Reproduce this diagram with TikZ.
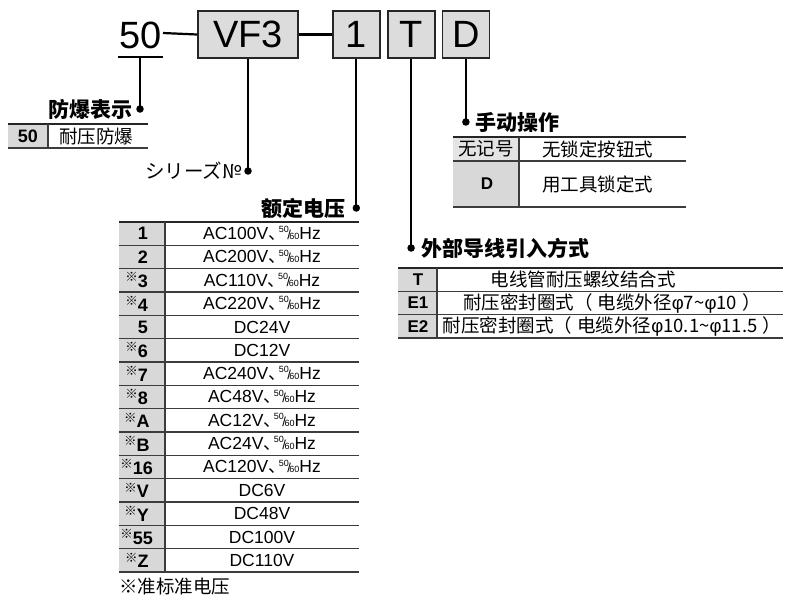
\documentclass[tikz,border=0pt]{standalone}
\usepackage{fontspec}
\setmainfont{Liberation Sans}
\newfontfamily\cjk{Noto Sans CJK SC}
\newfontfamily\jp{Noto Sans CJK JP}
\usetikzlibrary{positioning}
\definecolor{cellgray}{RGB}{216,216,216}
\definecolor{boxgray}{RGB}{220,220,220}
\definecolor{rulegray}{RGB}{60,60,60}
\newcommand{\fivesix}{\raisebox{0.38em}{\fontsize{9}{9}\selectfont 50}\kern-1.5pt{\fontsize{13}{13}\selectfont/}\kern-1.5pt{\fontsize{9}{9}\selectfont 60}}
\newcommand{\hz}{{\cjk\makebox[0.6em][l]{、}}\fivesix Hz}
\newcommand{\refmark}{\llap{\raisebox{0.32em}{\cjk\bfseries\fontsize{12.5}{12.5}\selectfont ※}}}
\newcommand{\diam}{{\rmfamily φ}}

\begin{document}
\begin{tikzpicture}[x=1pt, y=-1pt,
    code/.style={draw=black!85, line width=1.8pt, fill=boxgray, minimum height=47pt, inner sep=0pt, font=\fontsize{38}{38}\selectfont},
    dot/.style={circle, fill=black, inner sep=0pt, minimum size=7.5pt},
    lead/.style={line width=2.2pt},
    head/.style={font=\cjk\bfseries\fontsize{21}{21}\selectfont, inner sep=0pt},
    cell/.style={font=\cjk\fontsize{18.5}{18.5}\selectfont, inner sep=0pt},
    num/.style={font=\bfseries\fontsize{18}{18}\selectfont, inner sep=0pt},
    key/.style={font=\bfseries\fontsize{17}{17}\selectfont, inner sep=0pt},
    val/.style={font=\fontsize{17.5}{17.5}\selectfont, inner sep=0pt},
    rule/.style={draw=rulegray, line width=1.6pt},
    toprule/.style={draw=black!85, line width=2.2pt}
]
    \useasboundingbox (0,0) rectangle (790,603);

    % Model code
    \node[font=\fontsize{38}{38}\selectfont, inner sep=0pt] (fifty) at (140.5,35) {50};
    \node[code, minimum width=100pt] (vf) at (248,34.5) {VF3};
    \node[code, minimum width=47pt, right=33pt of vf] (volt) {1};
    \node[code, minimum width=47pt, right=6pt of volt] (wire) {T};
    \node[code, minimum width=47pt, right=6pt of wire] (man) {D};
    \coordinate (ul) at (140,57);
    \draw[lead] (118,57) -- (163,57);
    \draw[lead] (163,33) -- (vf.west);
    \draw[lead] (vf.east) -- (volt.west);

    % Dots
    \node[dot] (dexp) at (140,109) {};
    \node[dot] (dser) at (vf.south |- 0,171) {};
    \node[dot] (dvolt) at (volt.south |- 0,208) {};
    \node[dot] (dwire) at (wire.south |- 0,248) {};
    \node[dot] (dman) at (man.south |- 0,122) {};
    \draw[lead] (ul) -- (dexp.center);
    \draw[lead] (vf.south) -- (dser.center);
    \draw[lead] (volt.south) -- (dvolt.center);
    \draw[lead] (wire.south) -- (dwire.center);
    \draw[lead] (man.south) -- (dman.center);

    % Headings
    \node[head, left=3pt of dexp] (hexp) {防爆表示};
    \node[font=\jp\fontsize{19.5}{19.5}\selectfont, inner sep=0pt, left=2pt of dser] (hser) {シリーズ№};
    \node[head, left=7pt of dvolt] (hvolt) {额定电压};
    \node[head, right=6pt of dwire] (hwire) {外部导线引入方式};
    \node[head, right=5pt of dman] (hman) {手动操作};

    % Explosion-proof table
    \fill[cellgray] (8,124) rectangle (48,148);
    \draw[toprule] (8,124) -- (148,124);
    \draw[rule] (8,148) -- (148,148);
    \draw[rule] (48,124) -- (48,148);
    \node[num] (e50) at (28,136) {50};
    \node[cell] (etxt) at (96,136) {耐压防爆};

    % Manual override table
    \fill[cellgray!70] (453,137) rectangle (519,161);
    \fill[cellgray] (453,161) rectangle (519,207);
    \draw[toprule] (453,137) -- (686,137);
    \draw[rule] (453,161) -- (686,161);
    \draw[rule] (453,207) -- (686,207);
    \draw[rule] (519,137) -- (519,207);
    \node[cell] (mnone) at (486,149) {无记号};
    \node[cell, anchor=west] (mtxt1) at (542,149) {无锁定按钮式};
    \node[key] (md) at (487,184) {D};
    \node[cell, anchor=west] (mtxt2) at (542,184) {用工具锁定式};

    % Voltage table
    \fill[cellgray] (119,222) rectangle (165,572);
    \draw[toprule] (119,222) -- (359,222);
    \foreach \k in {1,...,15}
        \draw[rule] (119,222+\k*23.333) -- (359,222+\k*23.333);
    \draw[rule] (165,222) -- (165,572);
    \foreach \n/\s/\v [count=\i] in {1/0/AC100V\hz, 2/0/AC200V\hz, 3/1/AC110V\hz, 4/1/AC220V\hz,
        5/0/DC24V, 6/1/DC12V, 7/1/AC240V\hz, 8/1/AC48V\hz, A/1/AC12V\hz, B/1/AC24V\hz,
        16/1/AC120V\hz, V/1/DC6V, Y/1/DC48V, 55/1/DC100V, Z/1/DC110V} {
        \node[num] (vn\i) at (143,222+23.333*\i-11.667) {\ifnum\s=1\refmark\fi\n};
        \node[val] (vv\i) at (262,222+23.333*\i-11.667) {\v};
    }
    \node[cell, anchor=west] (note) at (119,586) {※准标准电压};

    % Lead wire table
    \fill[cellgray] (398,268) rectangle (437,338);
    \draw[toprule] (398,268) -- (783,268);
    \foreach \k in {1,2,3}
        \draw[rule] (398,268+\k*23.333) -- (783,268+\k*23.333);
    \draw[rule] (437,268) -- (437,338);
    \foreach \c/\t/\x [count=\i] in {T/电线管耐压螺纹结合式/583,
        E1/耐压密封圈式（\hspace{5pt}电缆外径\diam 7\textasciitilde\diam 10\hspace{5pt}）/612,
        E2/耐压密封圈式（\hspace{5pt}电缆外径\diam 10.1\textasciitilde\diam 11.5\hspace{5pt}）/612} {
        \node[key] (wk\i) at (418,268+23.333*\i-11.667) {\c};
        \node[cell] (wt\i) at (\x,268+23.333*\i-11.667) {\t};
    }
\end{tikzpicture}
\end{document}
